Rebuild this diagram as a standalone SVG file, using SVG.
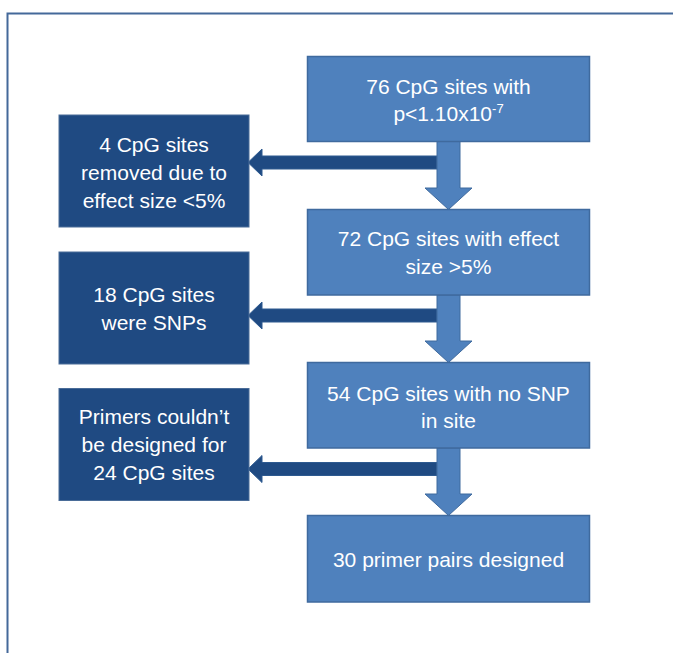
<svg xmlns="http://www.w3.org/2000/svg" width="673" height="653" viewBox="0 0 673 653">
<style>
.main{fill:#4F81BD;stroke:#3F6A9E;stroke-width:1.5}
.side{fill:#1F4A82;stroke:#4A6C98;stroke-width:1}
.t{font-family:"Liberation Sans",Arial,sans-serif;font-size:21px;fill:#FFFFFF;text-anchor:middle}
.sup{font-size:13px}
.larr{fill:#1F4A82;stroke:#2E5A90;stroke-width:1}
.darr{fill:#4F81BD;stroke:#3F6A9E;stroke-width:1}
</style>
<rect width="673" height="653" fill="#FFFFFF"/>
<rect x="7.5" y="13.5" width="700" height="700" fill="none" stroke="#44699A" stroke-width="2"/>
<g id="connectors">
<polygon class="larr" points="248,162.5 262,149 262,156 437,156 437,169 262,169 262,176"/>
<polygon class="darr" points="437,141.5 460,141.5 460,188 472,188 448.5,209.5 425,188 437,188"/>
<polygon class="larr" points="248,315.5 262,302 262,309 437,309 437,322 262,322 262,329"/>
<polygon class="darr" points="437,295 460,295 460,341 472,341 448.5,362.5 425,341 437,341"/>
<polygon class="larr" points="248,469 262,455.5 262,462.5 437,462.5 437,475.5 262,475.5 262,482.5"/>
<polygon class="darr" points="437,448 460,448 460,494 472,494 448.5,515.5 425,494 437,494"/>
</g>
<g id="n1">
<rect class="main" x="307.5" y="56.5" width="282" height="85"/>
<text class="t" x="448.5" y="93.5">76 CpG sites with</text>
<text class="t" x="448.5" y="121">p&lt;1.10x10<tspan class="sup" dy="-8">-7</tspan></text>
</g>
<g id="n2">
<rect class="main" x="307.5" y="209.5" width="282" height="85.5"/>
<text class="t" x="448.5" y="246">72 CpG sites with effect</text>
<text class="t" x="448.5" y="274">size &gt;5%</text>
</g>
<g id="n3">
<rect class="main" x="307.5" y="362.5" width="282" height="85.5"/>
<text class="t" x="448.5" y="400.5">54 CpG sites with no SNP</text>
<text class="t" x="448.5" y="428">in site</text>
</g>
<g id="n4">
<rect class="main" x="307.5" y="515.5" width="282" height="86.5"/>
<text class="t" x="448.5" y="567">30 primer pairs designed</text>
</g>
<g id="s1">
<rect class="side" x="59" y="115" width="190" height="112"/>
<text class="t" x="154" y="152">4 CpG sites</text>
<text class="t" x="154" y="180">removed due to</text>
<text class="t" x="154" y="208">effect size &lt;5%</text>
</g>
<g id="s2">
<rect class="side" x="59" y="252" width="190" height="112"/>
<text class="t" x="154" y="301.5">18 CpG sites</text>
<text class="t" x="154" y="329.5">were SNPs</text>
</g>
<g id="s3">
<rect class="side" x="59" y="388.5" width="190" height="112"/>
<text class="t" x="154" y="423.5">Primers couldn’t</text>
<text class="t" x="154" y="451.5">be designed for</text>
<text class="t" x="154" y="479.5">24 CpG sites</text>
</g>
</svg>
